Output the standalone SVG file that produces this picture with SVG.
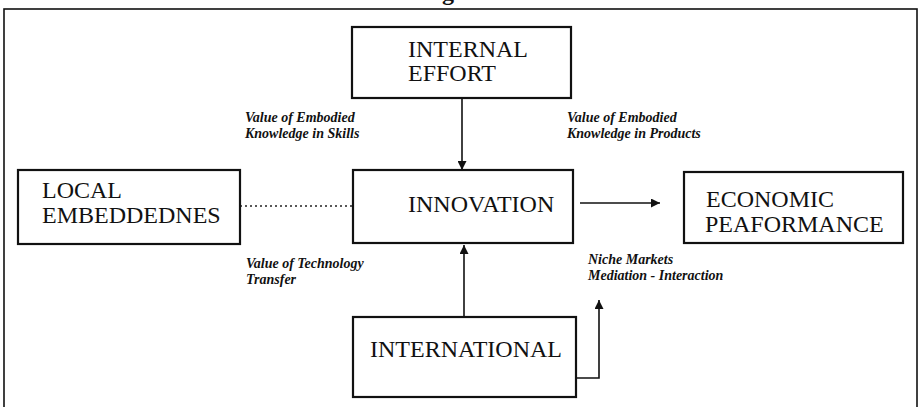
<svg xmlns="http://www.w3.org/2000/svg" width="924" height="407" viewBox="0 0 924 407">
  <style>
    .frame { fill: none; stroke: #111; stroke-width: 1.6; }
    .box { fill: #fff; stroke: #111; stroke-width: 2.2; }
    .title { font-family: "Liberation Serif", "Times New Roman", serif; font-size: 24px; fill: #111; }
    .note { font-family: "Liberation Serif", "Times New Roman", serif; font-size: 14px; font-style: italic; font-weight: bold; fill: #111; }
    .link { fill: none; stroke: #111; stroke-width: 1.6; }
    .dots { fill: none; stroke: #222; stroke-width: 1.3; stroke-dasharray: 2 3; }
  </style>
  <defs>
    <marker id="arrow" viewBox="0 0 10 10" refX="10" refY="5" markerWidth="9" markerHeight="9" markerUnits="userSpaceOnUse" orient="auto">
      <path d="M0,0 L10,5 L0,10 Z" fill="#111"/>
    </marker>
  </defs>

  <rect width="924" height="407" fill="#fff"/>

  <!-- figure heading, mostly above the sheet -->
  <text x="442" y="0" font-family="Liberation Serif, serif" font-size="24" font-weight="bold" fill="#111">g</text>

  <!-- outer frame -->
  <rect class="frame" x="4" y="9" width="913" height="410"/>

  <g id="connectors">
    <line class="link" x1="462" y1="98" x2="462" y2="170" marker-end="url(#arrow)"/>
    <line class="link" x1="464" y1="328" x2="464" y2="245" marker-end="url(#arrow)"/>
    <line class="link" x1="580" y1="203" x2="660" y2="203" marker-end="url(#arrow)"/>
    <polyline class="link" points="576,378 599,378 599,300" marker-end="url(#arrow)"/>
    <line class="dots" x1="240" y1="206" x2="353" y2="206"/>
  </g>

  <g id="internal-effort">
    <rect class="box" x="352" y="27" width="219" height="71"/>
    <text class="title" x="408" y="57">INTERNAL</text>
    <text class="title" x="408" y="81">EFFORT</text>
  </g>

  <g id="local-embeddedness">
    <rect class="box" x="18" y="170" width="222" height="74"/>
    <text class="title" x="42" y="198">LOCAL</text>
    <text class="title" x="42" y="223">EMBEDDEDNES</text>
  </g>

  <g id="innovation">
    <rect class="box" x="353" y="170" width="220" height="73"/>
    <text class="title" x="408" y="212" font-size="22px">INNOVATION</text>
  </g>

  <g id="economic-performance">
    <rect class="box" x="684" y="172" width="219" height="71"/>
    <text class="title" x="706" y="207">ECONOMIC</text>
    <text class="title" x="705" y="232">PEAFORMANCE</text>
  </g>

  <g id="international">
    <rect class="box" x="353" y="317" width="223" height="80"/>
    <text class="title" x="370" y="357" font-size="24.5px">INTERNATIONAL</text>
  </g>

  <g id="labels">
    <text class="note" x="245" y="122">Value of Embodied</text>
    <text class="note" x="245" y="138">Knowledge in Skills</text>
    <text class="note" x="567" y="122">Value of Embodied</text>
    <text class="note" x="567" y="138">Knowledge in Products</text>
    <text class="note" x="246" y="268">Value of Technology</text>
    <text class="note" x="246" y="284">Transfer</text>
    <text class="note" x="588" y="264">Niche Markets</text>
    <text class="note" x="588" y="280">Mediation - Interaction</text>
  </g>
</svg>
